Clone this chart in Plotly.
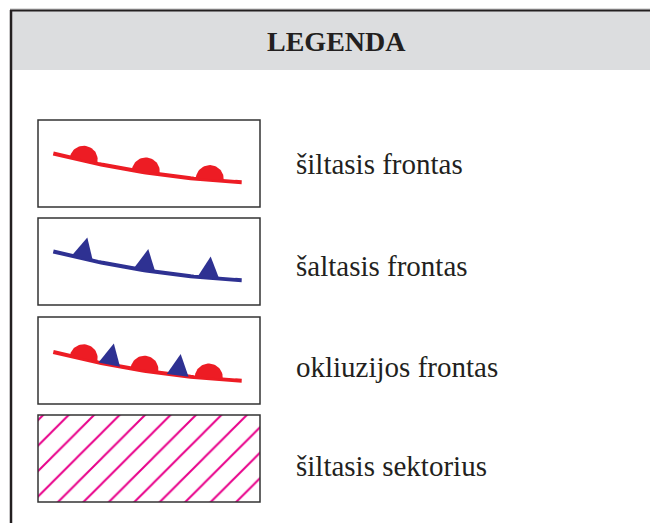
import numpy as np
import plotly.graph_objects as go

# ---------------- data ----------------
title = "LEGENDA"
labels = ["šiltasis frontas", "šaltasis frontas", "okliuzijos frontas", "šiltasis sektorius"]
kinds = ["warm", "cold", "occluded", "sector"]
# positions of symbols along the front line (fraction of line length)
warm_semi_t = [0.16, 0.49, 0.83]
cold_tri_t = [0.153, 0.484, 0.823]
occl_semi_t = [0.16, 0.483, 0.825]
occl_tri_t = [0.297, 0.66]

# ---------------- layout constants (pixels) ----------------
W, H = 650, 523
RED = "#ed1c24"
BLUE = "#2e3192"
MAGENTA = "#e8008a"
INK = "#231f20"
BOX_X0, BOX_X1 = 38, 260
BOX_TOPS = [120, 218, 317, 415]
BOX_H = 87
LABEL_X = 294
LABEL_Y = [163.5, 266.0, 366.5, 466.0]

fig = go.Figure()


def frame_at(y0, t):
    x = 53.3 + 188.4 * t
    y = y0 + 33.5 + 48.3 * t - 19.6 * t ** 2
    dx, dy = 188.4, 48.3 - 39.2 * t
    L = np.hypot(dx, dy)
    u = np.array([dx / L, dy / L])
    nrm = np.array([u[1], -u[0]])  # upward normal (screen coords)
    return np.array([x, y]), u, nrm


def line(y0, color):
    t = np.linspace(0, 1, 60)
    x = 53.3 + 188.4 * t
    y = y0 + 33.5 + 48.3 * t - 19.6 * t ** 2
    fig.add_trace(go.Scatter(x=x, y=y, mode="lines", line=dict(color=color, width=4),
                             hoverinfo="skip", showlegend=False))


def semicircle(y0, t, color, r=14):
    c, u, nrm = frame_at(y0, t)
    th = np.linspace(0, np.pi, 30)
    pts = [c + 1.0 * nrm + r * (np.cos(a) * u + np.sin(a) * nrm) for a in th]
    fig.add_trace(go.Scatter(x=[p[0] for p in pts], y=[p[1] for p in pts],
                             fill="toself", fillcolor=color,
                             line=dict(width=0, color=color), mode="lines",
                             hoverinfo="skip", showlegend=False))


def triangle(y0, t, color):
    c, u, nrm = frame_at(y0, t)
    p1 = c - 11 * u
    p2 = c + 11 * u
    p3 = c + 0.5 * u + 21.5 * nrm
    fig.add_trace(go.Scatter(x=[p1[0], p2[0], p3[0], p1[0]], y=[p1[1], p2[1], p3[1], p1[1]],
                             fill="toself", fillcolor=color,
                             line=dict(width=0, color=color), mode="lines",
                             hoverinfo="skip", showlegend=False))


for kind, top in zip(kinds, BOX_TOPS):
    if kind == "warm":
        line(top, RED)
        for t in warm_semi_t:
            semicircle(top, t, RED)
    elif kind == "cold":
        line(top, BLUE)
        for t in cold_tri_t:
            triangle(top, t, BLUE)
    elif kind == "occluded":
        line(top + 1.5, RED)
        for t in occl_semi_t:
            semicircle(top + 1.5, t, RED)
        for t in occl_tri_t:
            triangle(top + 1.5, t, BLUE)
    elif kind == "sector":
        fig.add_trace(go.Scatter(
            x=[BOX_X0, BOX_X1, BOX_X1, BOX_X0, BOX_X0],
            y=[top, top, top + BOX_H, top + BOX_H, top],
            fill="toself", mode="lines", line=dict(width=0),
            fillcolor="white",
            fillpattern=dict(shape="/", size=18, solidity=0.11, fgopacity=1,
                             fgcolor=MAGENTA, bgcolor="white"),
            hoverinfo="skip", showlegend=False))

shapes = [
    dict(type="rect", xref="x", yref="y", x0=11, x1=W + 5, y0=11, y1=70,
         fillcolor="#dcdddf", line=dict(width=0), layer="below"),
    dict(type="line", xref="x", yref="y", x0=10, x1=W + 5, y0=9, y1=9,
         line=dict(color="#bdbdbd", width=1), layer="above"),
    dict(type="line", xref="x", yref="y", x0=10, x1=W + 5, y0=10.5, y1=10.5,
         line=dict(color=INK, width=2), layer="above"),
    dict(type="line", xref="x", yref="y", x0=11, x1=11, y0=10, y1=H + 5,
         line=dict(color=INK, width=2.5), layer="above"),
]
for top in BOX_TOPS:
    shapes.append(dict(type="rect", xref="x", yref="y", x0=BOX_X0, x1=BOX_X1,
                       y0=top, y1=top + BOX_H, fillcolor="rgba(0,0,0,0)",
                       line=dict(color="#333333", width=1.5), layer="above"))

annotations = [dict(x=336, y=41, xref="x", yref="y", text="<b>%s</b>" % title,
                    showarrow=False, xanchor="center", yanchor="middle",
                    font=dict(family="Liberation Serif", size=28, color=INK))]
for lab, ly in zip(labels, LABEL_Y):
    annotations.append(dict(x=LABEL_X, y=ly, xref="x", yref="y", text=lab,
                            showarrow=False, xanchor="left", yanchor="middle",
                            font=dict(family="Liberation Serif", size=29, color=INK)))

fig.update_layout(
    width=W, height=H, margin=dict(l=0, r=0, t=0, b=0),
    paper_bgcolor="white", plot_bgcolor="white",
    xaxis=dict(range=[0, W], visible=False, fixedrange=True),
    yaxis=dict(range=[H, 0], visible=False, fixedrange=True),
    shapes=shapes, annotations=annotations, showlegend=False,
)

fig.write_html("out.html", config={"displayModeBar": False},
               post_script="document.body.style.margin='0';document.body.style.overflow='hidden';")
